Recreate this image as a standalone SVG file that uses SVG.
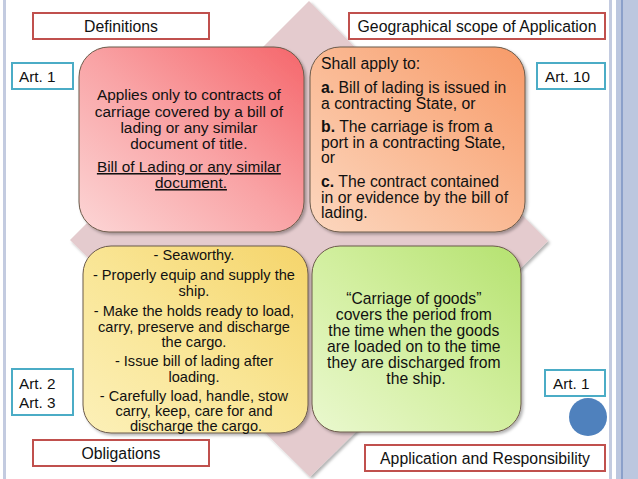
<svg xmlns="http://www.w3.org/2000/svg" width="638" height="479" viewBox="0 0 638 479">
<defs>
<style>
.t{font-family:"Liberation Sans",Arial,sans-serif;fill:#111;}
.hdr{fill:#fff;stroke:#c0504d;stroke-width:2;}
.art{fill:#fff;stroke:#4bacc6;stroke-width:2;}
.card{stroke:#6b5a4a;stroke-width:1;filter:url(#sh);}
</style>
<linearGradient id="gPink" x1="0" y1="1" x2="1" y2="0">
<stop offset="0" stop-color="#fcd6d6"/><stop offset="0.5" stop-color="#f9a3a5"/><stop offset="1" stop-color="#f5666b"/>
</linearGradient>
<linearGradient id="gOrange" x1="0" y1="1" x2="1" y2="0">
<stop offset="0" stop-color="#fcd7bf"/><stop offset="0.5" stop-color="#fab993"/><stop offset="1" stop-color="#f79a68"/>
</linearGradient>
<linearGradient id="gYellow" x1="0" y1="1" x2="1" y2="0">
<stop offset="0" stop-color="#fcf0b8"/><stop offset="0.5" stop-color="#f9e594"/><stop offset="1" stop-color="#f5d46a"/>
</linearGradient>
<linearGradient id="gGreen" x1="0" y1="1" x2="1" y2="0">
<stop offset="0" stop-color="#eaf8cf"/><stop offset="0.5" stop-color="#d2ef9f"/><stop offset="1" stop-color="#b5e270"/>
</linearGradient>
<filter id="sh" x="-10%" y="-10%" width="125%" height="125%">
<feDropShadow dx="2" dy="2" stdDeviation="1.5" flood-color="#000" flood-opacity="0.3"/>
</filter>
</defs>
<rect x="0" y="0" width="638" height="479" fill="#fff"/>
<g id="frame">
<rect x="3" y="0" width="3" height="479" fill="#c3cbe0"/>
<rect x="609" y="0" width="3" height="479" fill="#c3cbe0"/>
<rect x="616" y="0" width="22" height="479" fill="#bcc7df"/>
<rect x="621.5" y="0" width="1" height="479" fill="#5b7ab5"/>
</g>
<g id="diamond">
<polygon points="309,1 548,241 310,477 70,240" fill="#e4cbce" filter="url(#sh)"/>
</g>
<g id="connectors"></g>
<g id="definitions">
<rect class="hdr" x="33" y="13" width="176" height="26"/>
<text class="t" x="121" y="32" font-size="15.8" text-anchor="middle">Definitions</text>
</g>
<g id="geo">
<rect class="hdr" x="349" y="13" width="256" height="26"/>
<text class="t" x="477" y="32" font-size="15.8" text-anchor="middle">Geographical scope of Application</text>
</g>
<g id="art1-left">
<rect class="art" x="12" y="63" width="61" height="26"/>
<text class="t" x="19" y="82" font-size="15.3">Art. 1</text>
</g>
<g id="art10">
<rect class="art" x="537" y="63" width="68" height="26"/>
<text class="t" x="545" y="82" font-size="15.3">Art. 10</text>
</g>
<g id="pink">
<rect class="card" x="79" y="47" width="225" height="185" rx="30" fill="url(#gPink)"/>
<text class="t" font-size="15.4" text-anchor="middle">
<tspan x="191" y="100">Applies only to contracts of</tspan>
<tspan x="191" y="116.5">carriage covered by a bill of</tspan>
<tspan x="191" y="133">lading or any similar</tspan>
<tspan x="191" y="149">document of title.</tspan>
<tspan x="191" y="172" text-decoration="underline">Bill of Lading or any similar</tspan>
<tspan x="191" y="188" text-decoration="underline">document.</tspan>
</text>
</g>
<g id="orange">
<rect class="card" x="310" y="47" width="215" height="185" rx="30" fill="url(#gOrange)"/>
<text class="t" font-size="15.8">
<tspan x="321" y="69">Shall apply to:</tspan>
<tspan x="321" y="93"><tspan font-weight="bold">a.</tspan> Bill of lading is issued in</tspan>
<tspan x="321" y="108.5">a contracting State, or</tspan>
<tspan x="321" y="132"><tspan font-weight="bold">b.</tspan> The carriage is from a</tspan>
<tspan x="321" y="147.5">port in a contracting State,</tspan>
<tspan x="321" y="163">or</tspan>
<tspan x="321" y="187"><tspan font-weight="bold">c.</tspan> The contract contained</tspan>
<tspan x="321" y="202.5">in or evidence by the bill of</tspan>
<tspan x="321" y="218">lading.</tspan>
</text>
</g>
<g id="yellow">
<rect class="card" x="83" y="246" width="225" height="187" rx="28" fill="url(#gYellow)"/>
<text class="t" font-size="14.6" text-anchor="middle">
<tspan x="196" y="260">- Seaworthy.</tspan>
<tspan x="196" y="280">- Properly equip and supply the</tspan>
<tspan x="196" y="295.5">ship.</tspan>
<tspan x="196" y="316">- Make the holds ready to load,</tspan>
<tspan x="196" y="331.5">carry, preserve and discharge</tspan>
<tspan x="196" y="347">the cargo.</tspan>
<tspan x="196" y="366">- Issue bill of lading after</tspan>
<tspan x="196" y="381.5">loading.</tspan>
<tspan x="196" y="401">- Carefully load, handle, stow</tspan>
<tspan x="196" y="416">carry, keep, care for and</tspan>
<tspan x="196" y="431">discharge the cargo.</tspan>
</text>
</g>
<g id="green">
<rect class="card" x="312" y="246" width="209" height="186" rx="28" fill="url(#gGreen)"/>
<text class="t" font-size="15.7" text-anchor="middle">
<tspan x="416" y="304">“Carriage of goods”</tspan>
<tspan x="416" y="320">covers the period from</tspan>
<tspan x="416" y="336">the time when the goods</tspan>
<tspan x="416" y="352">are loaded on to the time</tspan>
<tspan x="416" y="368">they are discharged from</tspan>
<tspan x="416" y="384">the ship.</tspan>
</text>
</g>
<g id="art23">
<rect class="art" x="12" y="369" width="61" height="46"/>
<text class="t" font-size="15.3"><tspan x="19" y="389">Art. 2</tspan><tspan x="19" y="408">Art. 3</tspan></text>
</g>
<g id="art1-right">
<rect class="art" x="545" y="370" width="60" height="26"/>
<text class="t" x="553" y="389" font-size="15.3">Art. 1</text>
</g>
<g id="dot">
<circle cx="588" cy="417" r="19" fill="#4f81bd"/>
</g>
<g id="obligations">
<rect class="hdr" x="33" y="440" width="176" height="26"/>
<text class="t" x="121" y="459" font-size="15.8" text-anchor="middle">Obligations</text>
</g>
<g id="appresp">
<rect class="hdr" x="365" y="445" width="240" height="26"/>
<text class="t" x="485" y="464" font-size="15.8" text-anchor="middle">Application and Responsibility</text>
</g>
</svg>
